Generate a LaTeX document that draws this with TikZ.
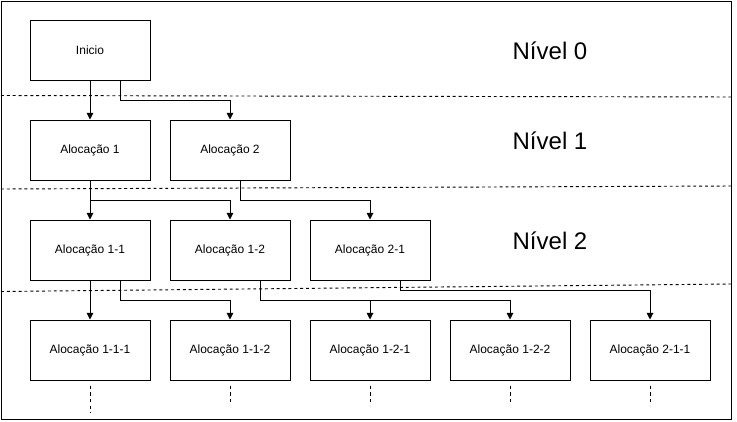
\documentclass[tikz,border=0pt]{standalone}
\usepackage{fontspec}
\setmainfont{Liberation Sans}
\usetikzlibrary{arrows.meta,calc}
\begin{document}
\begin{tikzpicture}[x=0.75pt,y=-0.75pt,
  box/.style={draw,line width=0.75pt,rectangle,minimum width=90pt,minimum height=45pt,inner sep=0pt,font=\fontsize{9}{11}\selectfont},
  lvl/.style={font=\fontsize{18}{21}\selectfont,inner sep=0pt},
  arr/.style={line width=0.75pt,-{Triangle[length=5pt,width=5pt]}},
  sep/.style={line width=0.7pt,dash pattern=on 2.2pt off 2.2pt,black},
  tail/.style={line width=0.7pt,dash pattern=on 2.5pt off 2.5pt}]
\useasboundingbox (0,0) rectangle (737,421);
\draw[line width=0.75pt] (1,1) rectangle (731,419);
% separators
\draw[sep] (1,95.5) -- (731,97);
\draw[sep] (1,189) -- (731,186);
\draw[sep] (1,291.5) -- (731,284);
% level labels
\node[lvl] (l0) at (550,50.5) {Nível 0};
\node[lvl] (l1) at (550,140.5) {Nível 1};
\node[lvl] (l2) at (550,240.5) {Nível 2};
% boxes
\node[box] (ini) at (90,50) {Inicio};
\node[box] (a1) at (90,150) {Alocação 1};
\node[box] (a2) at (230,150) {Alocação 2};
\node[box] (a11) at (90,250) {Alocação 1-1};
\node[box] (a12) at (230,250) {Alocação 1-2};
\node[box] (a21) at (370,250) {Alocação 2-1};
\node[box] (b111) at (90,350) {Alocação 1-1-1};
\node[box] (b112) at (230,350) {Alocação 1-1-2};
\node[box] (b121) at (370,350) {Alocação 1-2-1};
\node[box] (b122) at (510,350) {Alocação 1-2-2};
\node[box] (b211) at (650,350) {Alocação 2-1-1};
% connectors
\draw[arr] (ini.south) -- (a1.north);
\draw[arr] ([xshift=22.5pt]ini.south) -- ++(0,20) -| (a2.north);
\draw[arr] (a1.south) -- (a11.north);
\draw[arr] (a1.south) -- ++(0,20) -| (a12.north);
\draw[arr] ([xshift=7.5pt]a2.south) -- ++(0,20) -| (a21.north);
\draw[arr] (a11.south) -- (b111.north);
\draw[arr] ([xshift=22.5pt]a11.south) -- ++(0,20) -| (b112.north);
\draw[arr] ([xshift=22.5pt]a12.south) -- ++(0,20) -| (b121.north);
\draw[arr] ([xshift=22.5pt]a12.south) -- ++(0,20) -| (b122.north);
\draw[arr] ([xshift=22.5pt]a21.south) -- ++(0,10) -| (b211.north);
% continuation marks
\draw[tail] ([yshift=-3.75pt]b111.south) -- ++(0,27);
\draw[tail] ([yshift=-3.75pt]b112.south) -- ++(0,20);
\draw[tail] ([yshift=-3.75pt]b121.south) -- ++(0,20);
\draw[tail] ([yshift=-3.75pt]b122.south) -- ++(0,20);
\draw[tail] ([yshift=-3.75pt]b211.south) -- ++(0,20);
\end{tikzpicture}
\end{document}
